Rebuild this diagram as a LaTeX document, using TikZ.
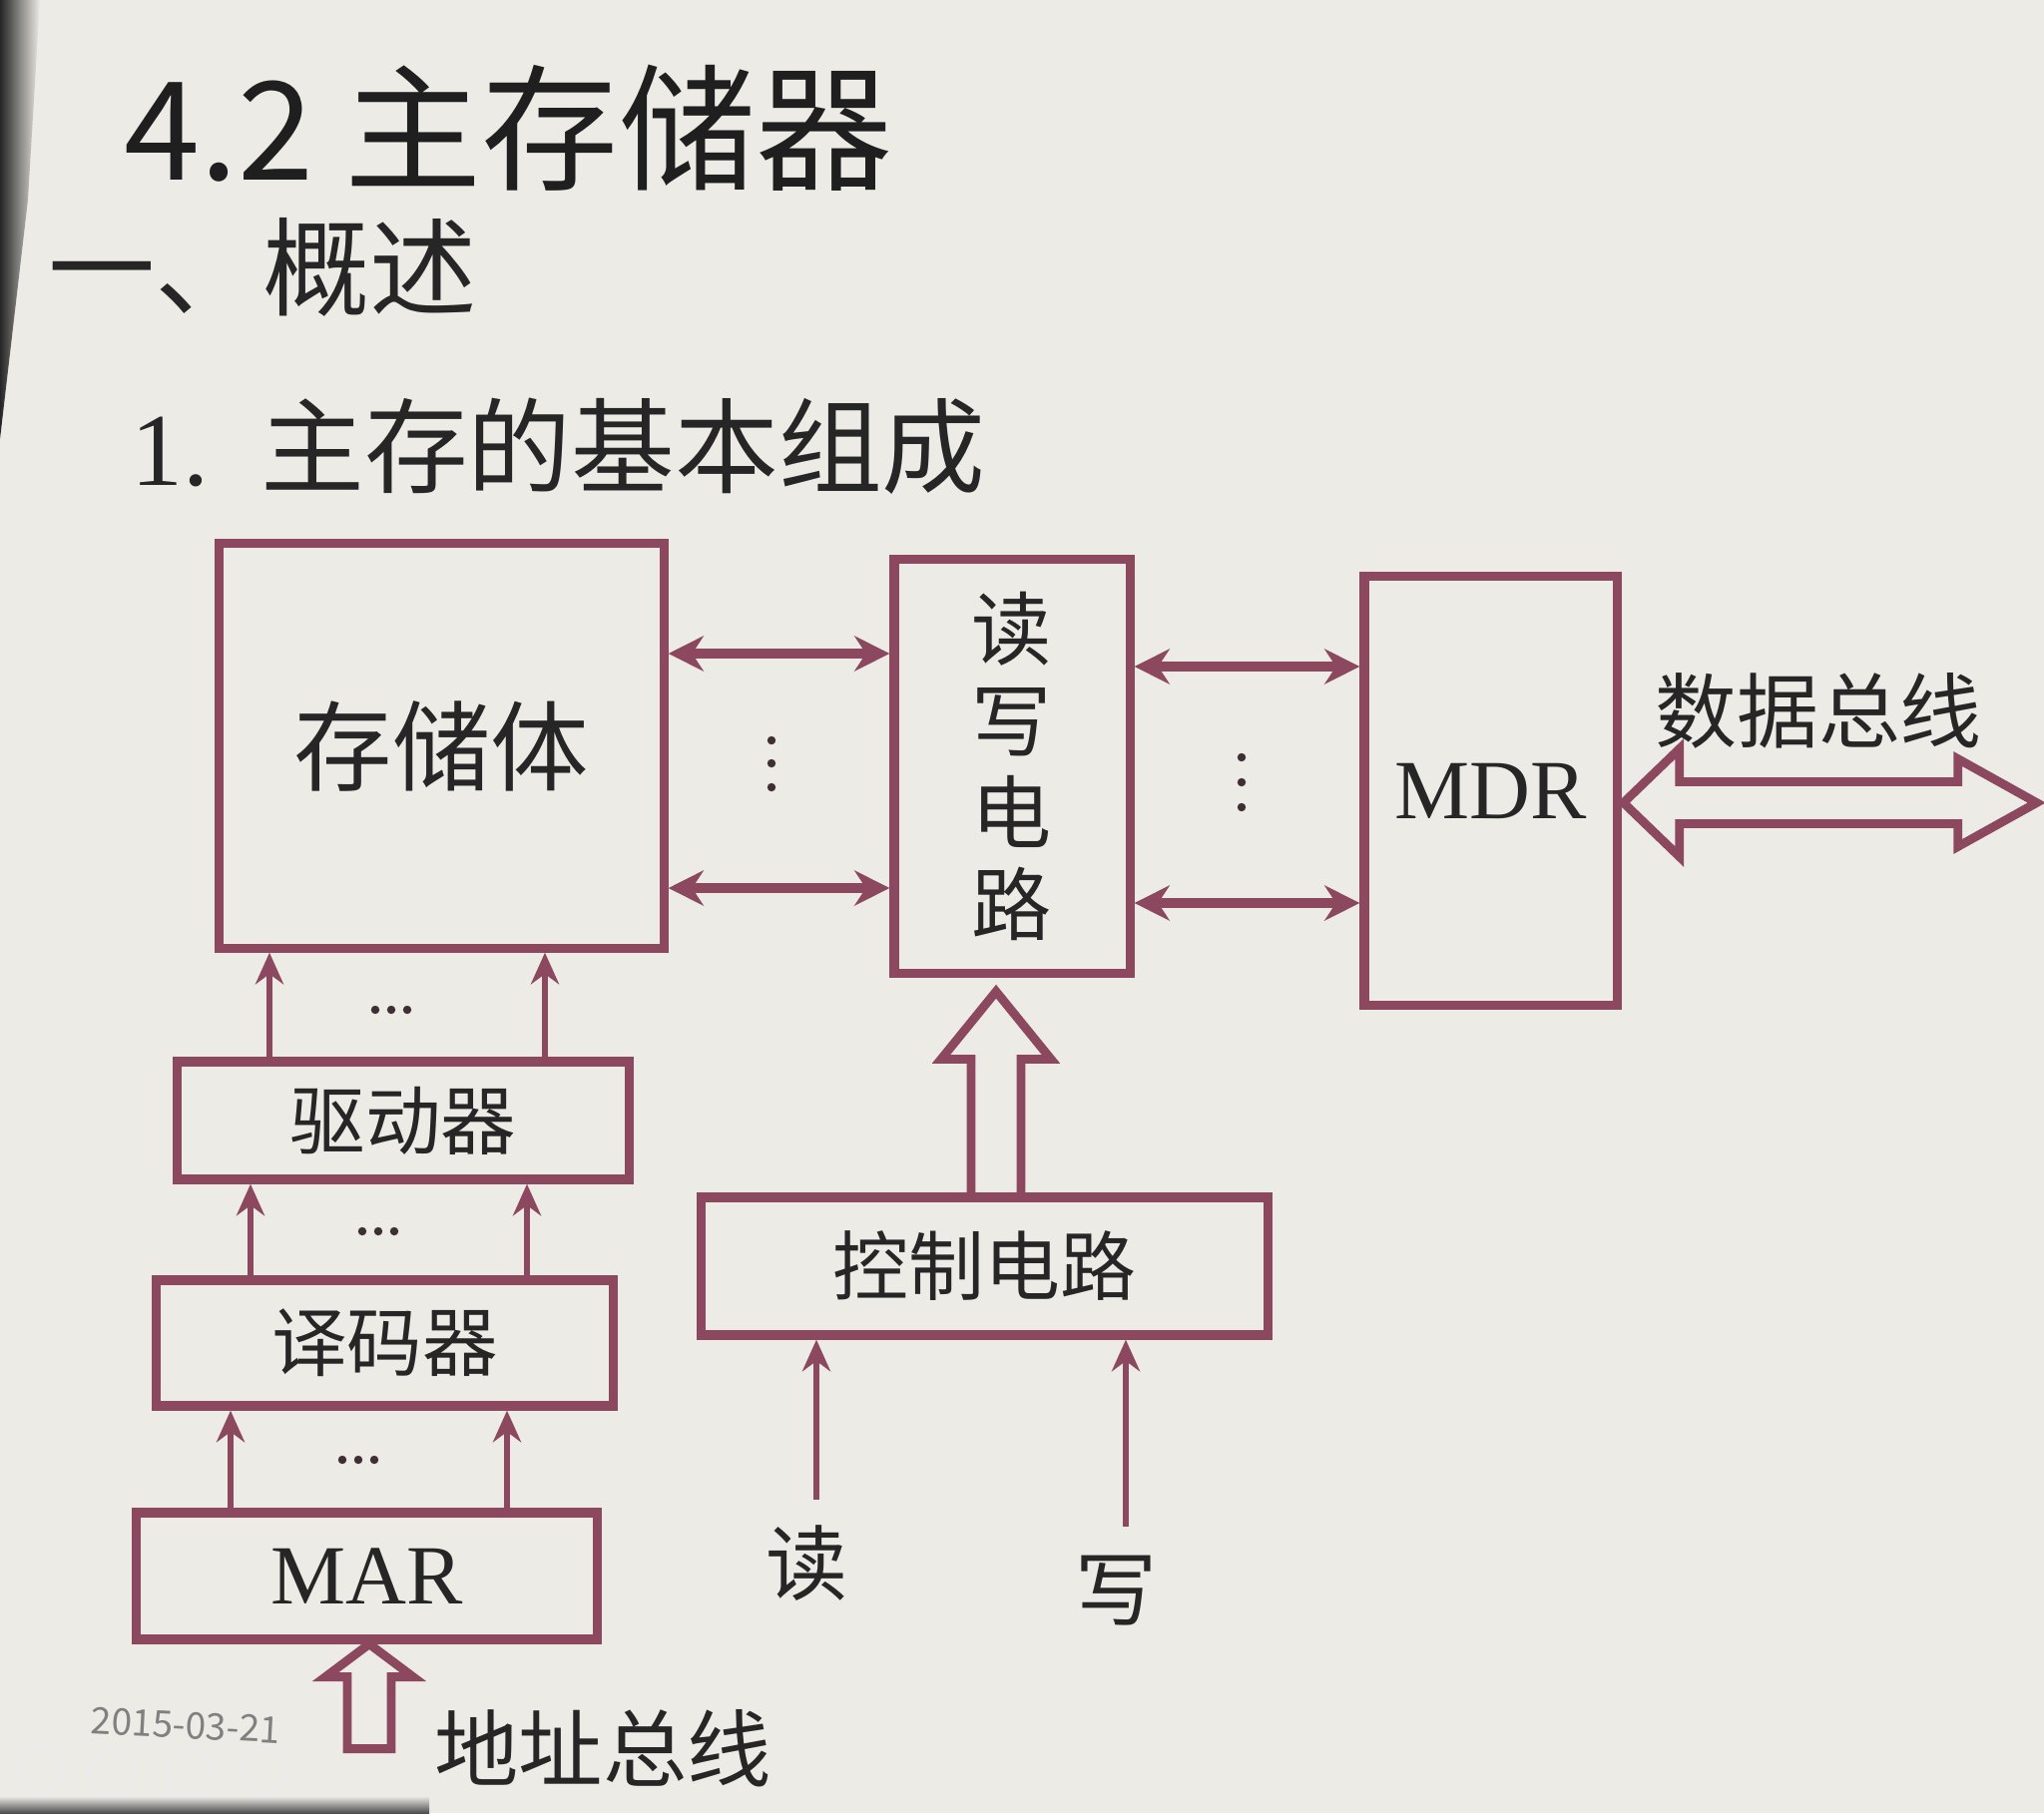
\documentclass[tikz,border=0pt]{standalone}
\usepackage{fontspec}
\setmainfont{Liberation Serif}
\newfontfamily\cjk{Noto Sans CJK SC}
\usetikzlibrary{arrows.meta,calc}
\definecolor{ln}{RGB}{140,72,95}
\definecolor{tx}{RGB}{38,38,38}
\definecolor{bg}{RGB}{236,235,230}
\newcommand\myfs[1]{\fontsize{#1pt}{#1pt}\selectfont}
\tikzset{
  box/.style={draw=ln, line width=2.6pt, inner sep=0pt, text=tx, font=\cjk},
  uparrow/.style={draw=ln, line width=1.8pt, -{Stealth[length=9pt,width=8pt]}},
  biarrow/.style={draw=ln, line width=2.7pt, {Stealth[length=10pt,width=10pt]}-{Stealth[length=10pt,width=10pt]}},
  hollow/.style={draw=ln, line width=2.5pt, line join=miter},
  lbl/.style={text=tx, inner sep=0pt},
  dotc/.style={fill=tx!75!ln}
}
\begin{document}
\begin{tikzpicture}[x=0.01cm,y=-0.01cm]
\useasboundingbox (0,0) rectangle (2048,1817);
\fill[bg] (0,0) rectangle (2048,1817);
\shade[left color=black!85, right color=bg] (0,0) -- (40,0) -- (28,200) -- (0,440) -- cycle;
\shade[top color=bg, bottom color=black!70] (0,1800) rectangle (430,1817);
\foreach \cx in {40,113,190,263}{\draw[black!8, line width=1pt] (\cx,1775) circle (6.5pt);}

% headings
\node[lbl, anchor=west, font=\cjk\myfs{39}, text=black!88] (title) at (124,128) {4.2 主存储器};
\node[lbl, anchor=west, font=\cjk\myfs{30.5}] (sec) at (48,268) {一、概述};
\node[lbl, anchor=west, font=\cjk\myfs{29.5}] (sub) at (131,447) {{\rmfamily 1.}\hspace{0.5em}主存的基本组成};

% boxes
\node[box, minimum width=4.45cm, minimum height=4.05cm, font=\cjk\myfs{28}] (mem) at (442.5,747.5) {存储体};
\node[box, minimum width=2.36cm, minimum height=4.14cm, align=center, font=\cjk\fontsize{22.8pt}{26.2pt}\selectfont] (rw) at (1014,768) {读\\写\\电\\路};
\node[box, minimum width=2.53cm, minimum height=4.29cm, font=\rmfamily\myfs{24}] (mdr) at (1493.5,792.5) {MDR};
\node[box, minimum width=4.52cm, minimum height=1.18cm, font=\cjk\myfs{21.5}] (drv) at (404,1123) {驱动器};
\node[box, minimum width=4.57cm, minimum height=1.26cm, font=\cjk\myfs{21.5}] (dec) at (385.5,1346) {译码器};
\node[box, minimum width=4.61cm, minimum height=1.27cm, font=\rmfamily\myfs{24}] (mar) at (367.5,1579.5) {MAR};
\node[box, minimum width=5.67cm, minimum height=1.38cm, font=\cjk\myfs{21.6}] (ctl) at (986.5,1269) {控制电路};

% bidirectional arrows
\coordinate (ya) at (0,655); \coordinate (yb) at (0,890);
\coordinate (yc) at (0,668); \coordinate (yd) at (0,905);
\draw[biarrow] (mem.east |- ya) -- (rw.west |- ya);
\draw[biarrow] (mem.east |- yb) -- (rw.west |- yb);
\draw[biarrow] (rw.east |- yc) -- (mdr.west |- yc);
\draw[biarrow] (rw.east |- yd) -- (mdr.west |- yd);
\foreach \yy in {742,765,789}{\fill[dotc] (773,\yy) circle (1.2pt);}
\foreach \yy in {759,784,809}{\fill[dotc] (1244,\yy) circle (1.2pt);}

% address column arrows
\coordinate (xa1) at (270,0); \coordinate (xa2) at (546,0);
\coordinate (xb1) at (251,0); \coordinate (xb2) at (528,0);
\coordinate (xc1) at (231,0); \coordinate (xc2) at (508,0);
\draw[uparrow] (drv.north -| xa1) -- (mem.south -| xa1);
\draw[uparrow] (drv.north -| xa2) -- (mem.south -| xa2);
\draw[uparrow] (dec.north -| xb1) -- (drv.south -| xb1);
\draw[uparrow] (dec.north -| xb2) -- (drv.south -| xb2);
\draw[uparrow] (mar.north -| xc1) -- (dec.south -| xc1);
\draw[uparrow] (mar.north -| xc2) -- (dec.south -| xc2);
\foreach \xx in {-16,0,16}{
  \fill[dotc] (392+\xx,1012) circle (1.2pt);
  \fill[dotc] (379+\xx,1234) circle (1.2pt);
  \fill[dotc] (359+\xx,1463) circle (1.2pt);
}

% control -> read/write hollow arrow
\coordinate (cb) at ($(ctl.north)+(11.5,4)$);
\coordinate (ct) at ($(rw.south)+(-16,14)$);
\draw[hollow] ($(cb)+(-25,0)$) -- ($(cb)+(-25,-138)$) -- ($(cb)+(-55,-138)$) -- (ct)
  -- ($(cb)+(55,-138)$) -- ($(cb)+(25,-138)$) -- ($(cb)+(25,0)$);

% address bus hollow arrow
\coordinate (at) at ($(mar.south)+(2.5,0)$);
\draw[hollow] (at) -- ($(at)+(44,33)$) -- ($(at)+(22,33)$) -- ($(at)+(22,105)$)
  -- ($(at)+(-22,105)$) -- ($(at)+(-22,33)$) -- ($(at)+(-44,33)$) -- cycle;
\node[lbl, font=\cjk\myfs{24}] (abus) at (604,1752) {地址总线};

% data bus hollow double arrow
\coordinate (dl) at ($(mdr.east)+(2,12)$);
\draw[hollow] (dl) -- +(56,-54) -- +(56,-21) -- +(335,-21) -- +(335,-44) -- +(414,0)
  -- +(335,44) -- +(335,21) -- +(56,21) -- +(56,54) -- cycle;
\node[lbl, font=\cjk\myfs{23.3}] (dbus) at (1822,712) {数据总线};

% read / write inputs
\node[lbl, font=\cjk\myfs{23.3}] (rd) at (808,1567) {读};
\node[lbl, font=\cjk\myfs{23.3}] (wr) at (1118,1594) {写};
\coordinate (rdx) at (818,1503);
\coordinate (wrx) at (1128,1530);
\draw[uparrow] (rdx) -- (ctl.south -| rdx);
\draw[uparrow] (wrx) -- (ctl.south -| wrx);

% date
\node[lbl, font=\cjk\myfs{10.5}, text=black!50, rotate=-3] (date) at (186,1729) {2015-03-21};
\end{tikzpicture}
\end{document}
